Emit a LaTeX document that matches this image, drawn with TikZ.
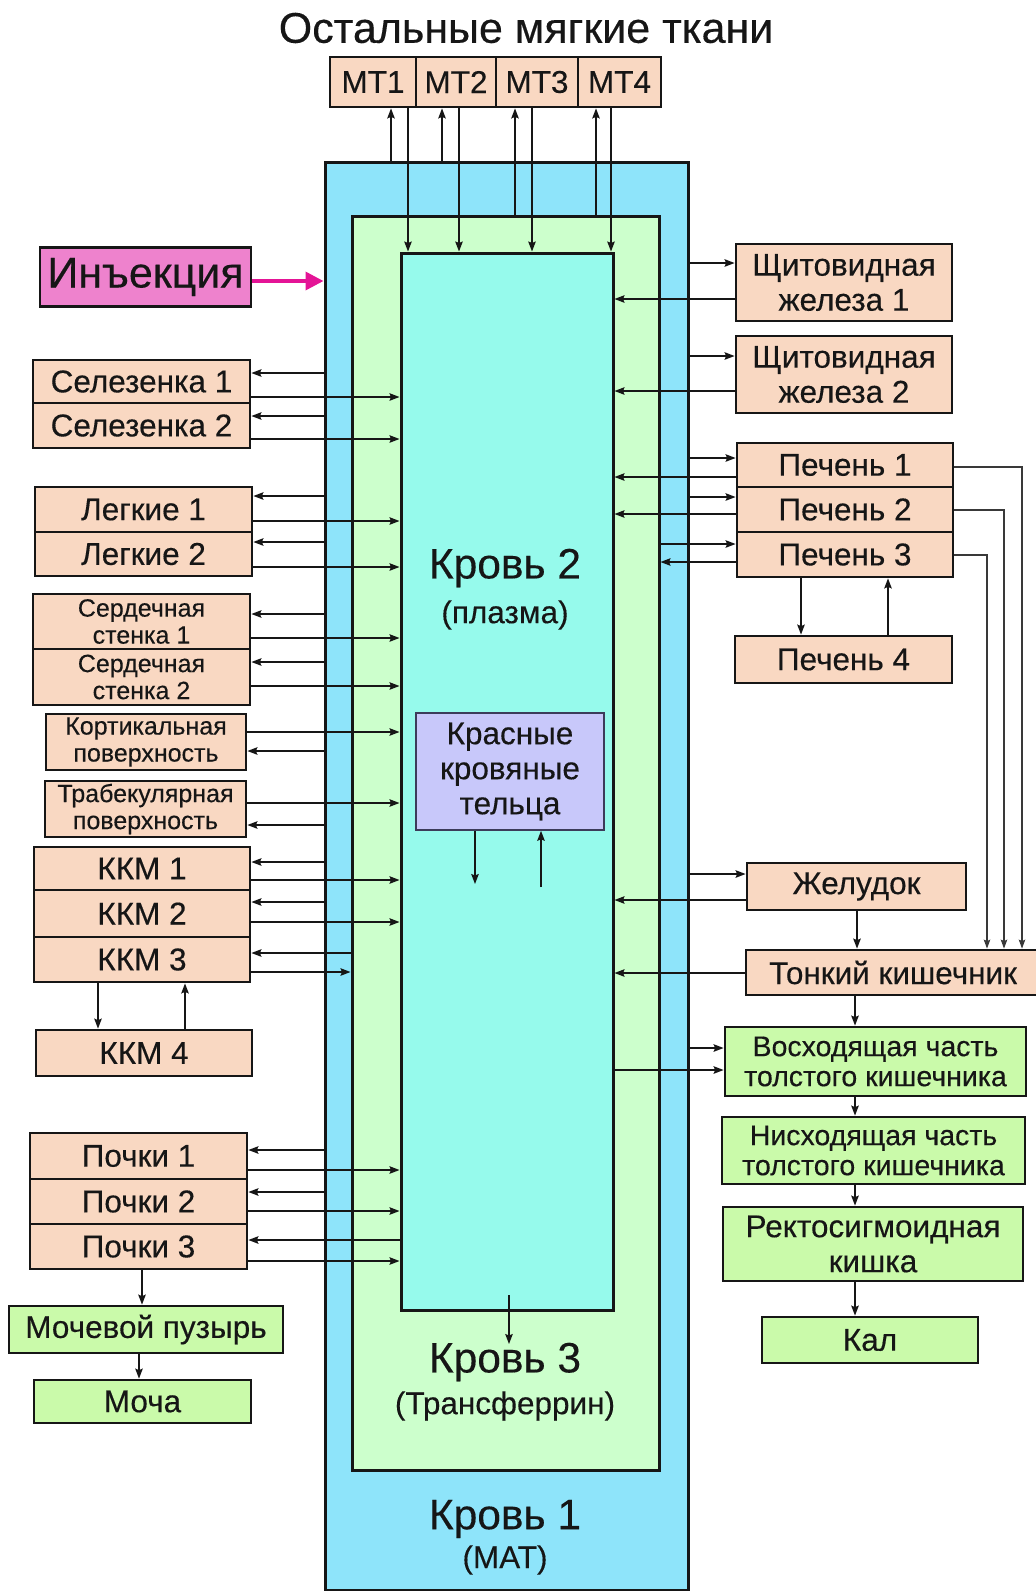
\documentclass[tikz,border=0pt]{standalone}
\usepackage{fontspec}
\setmainfont{Liberation Sans}[FakeBold=0.3]
\usetikzlibrary{arrows.meta}

% palette
\definecolor{bloodA}{RGB}{142,228,250}
\definecolor{bloodB}{RGB}{150,250,236}
\definecolor{bloodC}{RGB}{204,255,204}
\definecolor{organ}{RGB}{249,216,194}
\definecolor{excr}{RGB}{202,250,170}
\definecolor{rbcfill}{RGB}{200,200,250}
\definecolor{rbcline}{RGB}{60,60,90}
\definecolor{injfill}{RGB}{238,130,205}
\definecolor{injarrow}{RGB}{228,20,150}
\definecolor{ink}{RGB}{22,22,22}

% type sizes
\newcommand\fsMain{\fontsize{31.5}{35}\selectfont}
\newcommand\fsTwo{\fontsize{25}{27}\selectfont}
\newcommand\fsMid{\fontsize{28.5}{30}\selectfont}
\newcommand\fsBig{\fontsize{42.5}{46}\selectfont}
\newcommand\fsTitle{\fontsize{43}{48}\selectfont}

\begin{document}
\begin{tikzpicture}[x=1pt,y=-1pt,
  box/.style={draw=ink, line width=2.8pt, inner sep=0pt, align=center, text=ink, font=\fsMain},
  organbox/.style={box, fill=organ},
  exbox/.style={box, fill=excr},
  bloodbox/.style={draw=ink, line width=3pt, inner sep=0pt},
  arr/.style={draw=ink, line width=1.5pt, -{Stealth[length=10pt,width=7.5pt,inset=1.5pt]}},
  feed/.style={draw=ink!85, line width=1.3pt, -{Stealth[length=9pt,width=6.5pt,inset=1.5pt]}},
  label/.style={text=ink, inner sep=0pt}
]
\useasboundingbox (0,0) rectangle (1036,1591);

% nested blood compartments
\node[bloodbox, fill=bloodA, minimum width=363pt, minimum height=1428pt] (k1) at (506.5,876) {};
\node[bloodbox, fill=bloodC, minimum width=307pt, minimum height=1254pt] (k3) at (505.5,843) {};
\node[bloodbox, fill=bloodB, minimum width=212pt, minimum height=1057pt] (k2) at (507,781.5) {};

\node[label, font=\fsBig]  (k2name) at (505,568)  {Кровь 2};
\node[label, font=\fsMain] (k2sub)  at (505,615)  {(плазма)};
\node[label, font=\fsBig]  (k3name) at (505,1362) {Кровь 3};
\node[label, font=\fsMain] (k3sub)  at (505,1406) {(Трансферрин)};
\node[label, font=\fsBig]  (k1name) at (505,1519) {Кровь 1};
\node[label, font=\fsMain] (k1sub)  at (505,1560) {(МАТ)};

\node[draw=rbcline, line width=1.6pt, fill=rbcfill, inner sep=0pt, align=center,
      text=ink, font=\fsMain, minimum width=188pt, minimum height=117pt]
      (rbc) at (510,771.5) {Красные\\кровяные\\тельца};

% title and soft tissue compartments
\node[label, font=\fsTitle] (title) at (526,28) {Остальные мягкие ткани};
\node[organbox, minimum width=86pt, minimum height=50pt] (mt1) at (373,82)   {МТ1};
\node[organbox, minimum width=80pt, minimum height=50pt] (mt2) at (456,82)   {МТ2};
\node[organbox, minimum width=82pt, minimum height=50pt] (mt3) at (537,82)   {МТ3};
\node[organbox, minimum width=83pt, minimum height=50pt] (mt4) at (619.5,82) {МТ4};

% left column
\node[box, fill=injfill, font=\fontsize{43}{48}\selectfont, minimum width=211pt, minimum height=59pt] (inj) at (145.5,277) {Инъекция};
\node[organbox, minimum width=217pt, minimum height=43pt] (spl1) at (141.5,381.5) {Селезенка 1};
\node[organbox, minimum width=217pt, minimum height=45pt] (spl2) at (141.5,425.5) {Селезенка 2};
\node[organbox, minimum width=217pt, minimum height=45pt] (lng1) at (143.5,509.5) {Легкие 1};
\node[organbox, minimum width=217pt, minimum height=44pt] (lng2) at (143.5,554)   {Легкие 2};
\node[organbox, font=\fsTwo, minimum width=217pt, minimum height=55pt] (hrt1) at (141.5,621.5) {Сердечная\\стенка 1};
\node[organbox, font=\fsTwo, minimum width=217pt, minimum height=56pt] (hrt2) at (141.5,677)   {Сердечная\\стенка 2};
\node[organbox, font=\fsTwo, minimum width=200pt, minimum height=56pt] (cort) at (146,742)     {Кортикальная\\поверхность};
\node[organbox, font=\fsTwo, minimum width=201pt, minimum height=56pt] (trab) at (145.5,809)   {Трабекулярная\\поверхность};
\node[organbox, minimum width=216pt, minimum height=43pt] (kkm1) at (142,868.5) {ККМ 1};
\node[organbox, minimum width=216pt, minimum height=47pt] (kkm2) at (142,913.5) {ККМ 2};
\node[organbox, minimum width=216pt, minimum height=45pt] (kkm3) at (142,959.5) {ККМ 3};
\node[organbox, minimum width=216pt, minimum height=46pt] (kkm4) at (144,1053)  {ККМ 4};
\node[organbox, minimum width=217pt, minimum height=46pt] (kid1) at (138.5,1156)   {Почки 1};
\node[organbox, minimum width=217pt, minimum height=45pt] (kid2) at (138.5,1201.5) {Почки 2};
\node[organbox, minimum width=217pt, minimum height=45pt] (kid3) at (138.5,1246.5) {Почки 3};
\node[exbox, minimum width=274pt, minimum height=47pt] (blad)  at (146,1329.5)   {Мочевой пузырь};
\node[exbox, minimum width=217pt, minimum height=43pt] (urine) at (142.5,1401.5) {Моча};

% right column
\node[organbox, minimum width=216pt, minimum height=77pt] (thy1) at (844,282.5) {Щитовидная\\железа 1};
\node[organbox, minimum width=216pt, minimum height=77pt] (thy2) at (844,374.5) {Щитовидная\\железа 2};
\node[organbox, minimum width=216pt, minimum height=44pt] (liv1) at (845,465)   {Печень 1};
\node[organbox, minimum width=216pt, minimum height=45pt] (liv2) at (845,509.5) {Печень 2};
\node[organbox, minimum width=216pt, minimum height=45pt] (liv3) at (845,554.5) {Печень 3};
\node[organbox, minimum width=217pt, minimum height=47pt] (liv4) at (843.5,659.5) {Печень 4};
\node[organbox, minimum width=219pt, minimum height=47pt] (stom)  at (856.5,886.5) {Желудок};
\node[organbox, minimum width=294pt, minimum height=45pt] (small) at (893,972.5)   {Тонкий кишечник};
\node[exbox, font=\fsMid, minimum width=301pt, minimum height=69pt] (asc)  at (875.5,1061.5) {Восходящая часть\\толстого кишечника};
\node[exbox, font=\fsMid, minimum width=303pt, minimum height=67pt] (desc) at (873.5,1150.5) {Нисходящая часть\\толстого кишечника};
\node[exbox, minimum width=300pt, minimum height=74pt] (rect)  at (873,1244) {Ректосигмоидная\\кишка};
\node[exbox, minimum width=216pt, minimum height=46pt] (feces) at (870,1340) {Кал};

% exchange with soft tissue
\draw[arr] (k1.north -| 391,0) -- (mt1.south -| 391,0);
\draw[arr] (mt1.south -| 408,0) -- (k2.north -| 408,0);
\draw[arr] (k1.north -| 442,0) -- (mt2.south -| 442,0);
\draw[arr] (mt2.south -| 459,0) -- (k2.north -| 459,0);
\draw[arr] (k3.north -| 515,0) -- (mt3.south -| 515,0);
\draw[arr] (mt3.south -| 532,0) -- (k2.north -| 532,0);
\draw[arr] (k3.north -| 596,0) -- (mt4.south -| 596,0);
\draw[arr] (mt4.south -| 611,0) -- (k2.north -| 611,0);

% injection
\draw[line width=3.5pt, injarrow, -{Triangle[length=18pt,width=18pt]}] (inj.east |- 0,281) -- (k1.west |- 0,281);

% left organs
\draw[arr] (k1.west |- 0,373) -- (spl1.east |- 0,373);
\draw[arr] (spl1.east |- 0,397) -- (k2.west |- 0,397);
\draw[arr] (k1.west |- 0,416) -- (spl2.east |- 0,416);
\draw[arr] (spl2.east |- 0,439) -- (k2.west |- 0,439);
\draw[arr] (k1.west |- 0,496) -- (lng1.east |- 0,496);
\draw[arr] (lng1.east |- 0,521) -- (k2.west |- 0,521);
\draw[arr] (k1.west |- 0,542) -- (lng2.east |- 0,542);
\draw[arr] (lng2.east |- 0,567) -- (k2.west |- 0,567);
\draw[arr] (k1.west |- 0,614) -- (hrt1.east |- 0,614);
\draw[arr] (hrt1.east |- 0,638) -- (k2.west |- 0,638);
\draw[arr] (k1.west |- 0,662) -- (hrt2.east |- 0,662);
\draw[arr] (hrt2.east |- 0,686) -- (k2.west |- 0,686);
\draw[arr] (cort.east |- 0,732) -- (k2.west |- 0,732);
\draw[arr] (k1.west |- 0,751) -- (cort.east |- 0,751);
\draw[arr] (trab.east |- 0,803) -- (k2.west |- 0,803);
\draw[arr] (k1.west |- 0,825) -- (trab.east |- 0,825);
\draw[arr] (k1.west |- 0,862) -- (kkm1.east |- 0,862);
\draw[arr] (kkm1.east |- 0,880) -- (k2.west |- 0,880);
\draw[arr] (k1.west |- 0,902) -- (kkm2.east |- 0,902);
\draw[arr] (kkm2.east |- 0,922) -- (k2.west |- 0,922);
\draw[arr] (k3.west |- 0,953) -- (kkm3.east |- 0,953);
\draw[arr] (kkm3.east |- 0,972) -- (k3.west |- 0,972);
\draw[arr] (kkm3.south -| 98,0) -- (kkm4.north -| 98,0);
\draw[arr] (kkm4.north -| 185,0) -- (kkm3.south -| 185,0);
\draw[arr] (k1.west |- 0,1150) -- (kid1.east |- 0,1150);
\draw[arr] (kid1.east |- 0,1170) -- (k2.west |- 0,1170);
\draw[arr] (k1.west |- 0,1192) -- (kid2.east |- 0,1192);
\draw[arr] (kid2.east |- 0,1211) -- (k2.west |- 0,1211);
\draw[arr] (k2.west |- 0,1240) -- (kid3.east |- 0,1240);
\draw[arr] (kid3.east |- 0,1261) -- (k2.west |- 0,1261);
\draw[arr] (kid3.south -| 142,0) -- (blad.north -| 142,0);
\draw[arr] (blad.south -| 139,0) -- (urine.north -| 139,0);

% right organs
\draw[arr] (k1.east |- 0,263) -- (thy1.west |- 0,263);
\draw[arr] (thy1.west |- 0,299) -- (k2.east |- 0,299);
\draw[arr] (k1.east |- 0,356) -- (thy2.west |- 0,356);
\draw[arr] (thy2.west |- 0,391) -- (k2.east |- 0,391);
\draw[arr] (k1.east |- 0,458) -- (liv1.west |- 0,458);
\draw[arr] (liv1.west |- 0,477) -- (k2.east |- 0,477);
\draw[arr] (k1.east |- 0,497) -- (liv2.west |- 0,497);
\draw[arr] (liv2.west |- 0,514) -- (k2.east |- 0,514);
\draw[arr] (k3.east |- 0,544) -- (liv3.west |- 0,544);
\draw[arr] (liv3.west |- 0,562) -- (k3.east |- 0,562);
\draw[arr] (liv3.south -| 801,0) -- (liv4.north -| 801,0);
\draw[arr] (liv4.north -| 888,0) -- (liv3.south -| 888,0);
\draw[feed] (liv1.east |- 0,467) -| (small.north -| 1022,0);
\draw[feed] (liv2.east |- 0,510) -| (small.north -| 1004,0);
\draw[feed] (liv3.east |- 0,555) -| (small.north -| 987,0);
\draw[arr] (k1.east |- 0,874) -- (stom.west |- 0,874);
\draw[arr] (stom.west |- 0,900) -- (k2.east |- 0,900);
\draw[arr] (stom.south -| 857,0) -- (small.north -| 857,0);
\draw[arr] (small.west |- 0,973) -- (k2.east |- 0,973);
\draw[arr] (small.south -| 855,0) -- (asc.north -| 855,0);
\draw[arr] (k1.east |- 0,1048) -- (asc.west |- 0,1048);
\draw[arr] (k2.east |- 0,1070) -- (asc.west |- 0,1070);
\draw[arr] (asc.south -| 855,0) -- (desc.north -| 855,0);
\draw[arr] (desc.south -| 855,0) -- (rect.north -| 855,0);
\draw[arr] (rect.south -| 855,0) -- (feces.north -| 855,0);

% red cells and transferrin
\coordinate (rbcout) at (475,884);
\coordinate (rbcin) at (541,887);
\draw[arr] (rbc.south -| rbcout) -- (rbcout);
\draw[arr] (rbcin) -- (rbc.south -| rbcin);
\coordinate (plasmadrop) at (509,1295);
\coordinate (transf) at (509,1344);
\draw[arr] (plasmadrop) -- (transf);
\end{tikzpicture}
\end{document}
